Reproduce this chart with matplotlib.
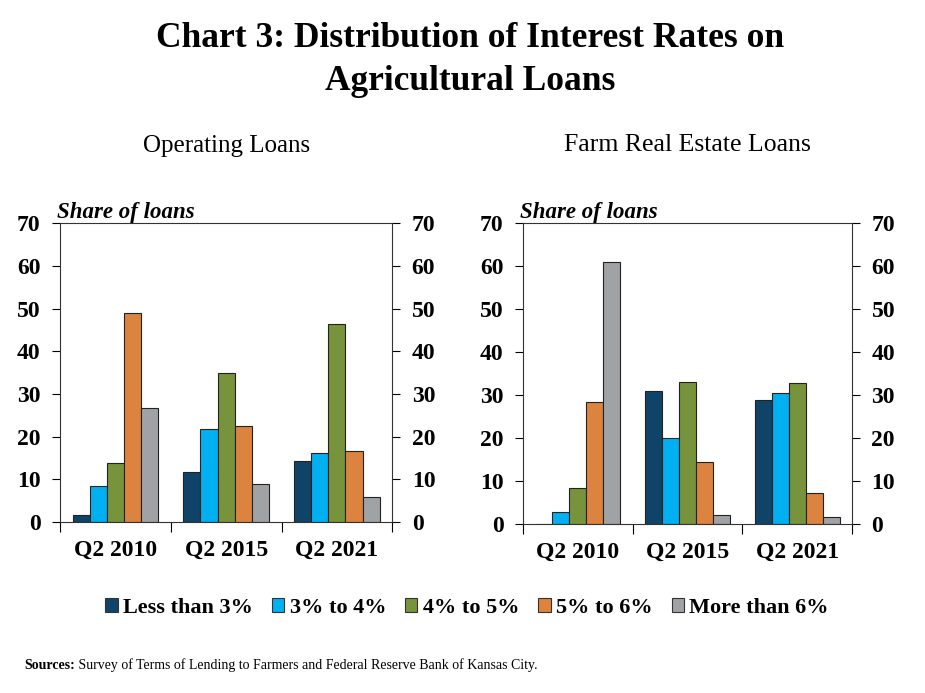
import numpy as np
import matplotlib
matplotlib.use("Agg")
from matplotlib import pyplot as plt
from matplotlib.patches import Patch

plt.rcParams['font.family'] = ['Liberation Serif', 'DejaVu Serif']

periods = ['Q2 2010', 'Q2 2015', 'Q2 2021']
buckets = ['Less than 3%', '3% to 4%', '4% to 5%', '5% to 6%', 'More than 6%']
colors = ['#0F4468', '#00B0F0', '#77933C', '#DC843F', '#A0A3A6']

# share of loans (percent), one list per rate bucket, in order of periods
operating_lt3 = [1.6, 11.8, 14.4]
operating_3to4 = [8.5, 21.7, 16.1]
operating_4to5 = [13.9, 34.9, 46.4]
operating_5to6 = [48.9, 22.5, 16.7]
operating_gt6 = [26.6, 8.8, 5.9]

realestate_lt3 = [0.0, 30.8, 28.8]
realestate_3to4 = [2.8, 19.8, 30.4]
realestate_4to5 = [8.2, 33.0, 32.6]
realestate_5to6 = [28.4, 14.4, 7.0]
realestate_gt6 = [60.8, 1.9, 1.5]

operating = [operating_lt3, operating_3to4, operating_4to5, operating_5to6, operating_gt6]
realestate = [realestate_lt3, realestate_3to4, realestate_4to5, realestate_5to6, realestate_gt6]

fig = plt.figure(figsize=(9.25, 6.93), dpi=100)

fig.text(0.508, 0.968, 'Chart 3: Distribution of Interest Rates on\nAgricultural Loans',
         ha='center', va='top', fontsize=25.5, fontweight='bold', linespacing=1.38)


def draw_panel(ax, series, subtitle, subsize):
    x = np.arange(len(periods))
    w = 0.155
    for i, vals in enumerate(series):
        ax.bar(x + (i - 2) * w, vals, width=w, color=colors[i],
               edgecolor='#222222', linewidth=0.8, zorder=2)
    ax.set_xlim(-0.5, 2.5)
    ax.set_ylim(0, 70)
    ax.set_yticks(range(0, 71, 10))
    ax.tick_params(axis='y', which='both', direction='out', length=6, width=0.8,
                   left=True, right=True, labelleft=True, labelright=True,
                   labelsize=17, pad=8)
    for lbl in ax.get_yticklabels():
        lbl.set_fontweight('bold')
    ax.set_xticks(x)
    ax.set_xticklabels(periods, fontsize=17, fontweight='bold')
    ax.tick_params(axis='x', which='major', length=0, pad=13)
    ax.set_xticks([-0.5, 0.5, 1.5, 2.5], minor=True)
    ax.tick_params(axis='x', which='minor', direction='out', length=7, width=0.8)
    for s in ax.spines.values():
        s.set_color('#333333')
        s.set_linewidth(0.8)
    ax.text(-0.01, 1.0, 'Share of loans', transform=ax.transAxes, ha='left', va='bottom',
            fontsize=16.5, fontweight='bold', fontstyle='italic')
    ax.text(0.5, 1.26, subtitle, transform=ax.transAxes, ha='center', va='center',
            fontsize=subsize)


ax1 = fig.add_axes([0.065, 0.2468, 0.359, 0.431])
draw_panel(ax1, operating, 'Operating Loans', 18)
ax2 = fig.add_axes([0.5654, 0.2445, 0.3557, 0.434])
draw_panel(ax2, realestate, 'Farm Real Estate Loans', 18.5)

handles = [Patch(facecolor=c, edgecolor='#333333', linewidth=0.8) for c in colors]
fig.legend(handles, buckets, loc='center', bbox_to_anchor=(0.505, 0.123), ncol=5,
           frameon=False, prop={'size': 16, 'weight': 'bold'}, handlelength=0.55,
           handleheight=0.55, handletextpad=0.25, columnspacing=0.85)

# sources line: bold lead-in, then plain text on the same baseline
src = fig.text(0.026, 0.035, 'Sources:', ha='left', va='baseline', fontsize=10,
               fontweight='bold')
fig.canvas.draw()
bb = src.get_window_extent().transformed(fig.transFigure.inverted())
fig.text(bb.x1, 0.035, ' Survey of Terms of Lending to Farmers and Federal Reserve Bank of Kansas City.',
         ha='left', va='baseline', fontsize=10)

fig.savefig('out.png', dpi=100)
